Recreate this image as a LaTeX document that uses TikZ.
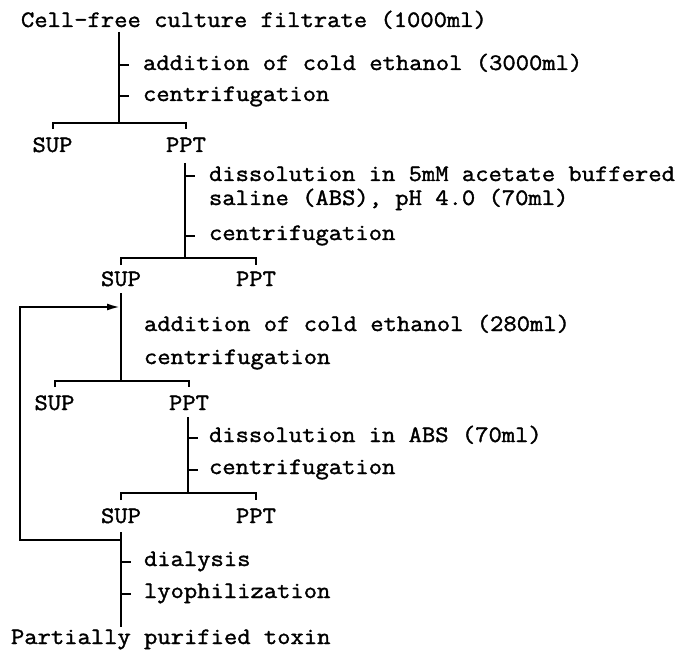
\documentclass[tikz,border=0pt]{standalone}
\usepackage{fontspec}
\newfontfamily\mono[BoldFont={Latin Modern Mono},BoldFeatures={FakeBold=1.5,FakeStretch=1.1}]{Latin Modern Mono}
\usetikzlibrary{arrows.meta,calc}
\begin{document}
\begin{tikzpicture}[x=1pt,y=-1pt,line width=2pt,
  txt/.style={inner sep=0pt,font=\mono\bfseries\fontsize{23.5}{27}\selectfont},
  lbl/.style={txt,anchor=base west},
  res/.style={txt,anchor=base},
  flow/.style={line width=2pt},
  loop/.style={line width=2pt,-{Latex[length=13pt,width=7pt]}}]
\useasboundingbox (0,0) rectangle (679,652);

% texts
\node[lbl] (start) at (20,27) {Cell-free culture filtrate (1000ml)};
\node[lbl] (s1a) at (142,70) {addition of cold ethanol (3000ml)};
\node[lbl] (s1b) at (142,101) {centrifugation};
\node[res] (sup1) at (52.5,152) {SUP};
\node[res] (ppt1) at (186,152) {PPT};
\node[lbl] (s2a) at (208,181) {dissolution in 5mM acetate buffered};
\node[lbl] (s2c) at (208,205) {saline (ABS), pH 4.0 (70ml)};
\node[lbl] (s2b) at (208,240) {centrifugation};
\node[res] (sup2) at (121,286) {SUP};
\node[res] (ppt2) at (256,286) {PPT};
\node[lbl] (s3a) at (143,331) {addition of cold ethanol (280ml)};
\node[lbl] (s3b) at (143,364) {centrifugation};
\node[res] (sup3) at (54.5,410) {SUP};
\node[res] (ppt3) at (189,410) {PPT};
\node[lbl] (s4a) at (208,442) {dissolution in ABS (70ml)};
\node[lbl] (s4b) at (208,474) {centrifugation};
\node[res] (sup4) at (121,523) {SUP};
\node[res] (ppt4) at (256,523) {PPT};
\node[lbl] (s5a) at (143,566) {dialysis};
\node[lbl] (s5b) at (143,598) {lyophilization};
\node[lbl] (fin) at (10,644) {Partially purified toxin};

% junction coordinates
\coordinate (t1) at (118.5,32);  \coordinate (j1) at (118.5,123);
\coordinate (t2) at (185,163);   \coordinate (j2) at (185,258);
\coordinate (t3) at (121,293);   \coordinate (j3) at (121,381);
\coordinate (t4) at (188,417);   \coordinate (j4) at (188,493);
\coordinate (t5) at (121,532);   \coordinate (b5) at (121,627);
\coordinate (ret) at (121,540);  \coordinate (back) at (20,540);
\coordinate (up) at (20,307);    \coordinate (in3) at (120,307);

% trunks
\draw[flow] (t1) -- (j1);
\draw[flow] (t2) -- (j2);
\draw[flow] (t3) -- (j3);
\draw[flow] (t4) -- (j4);
\draw[flow] (t5) -- (b5);

% splits
\draw[flow] (sup1.north |- j1) ++(0,6) -- (sup1.north |- j1) -- (ppt1.north |- j1) -- ++(0,6);
\draw[flow] (sup2.north |- j2) ++(0,7) -- (sup2.north |- j2) -- (ppt2.north |- j2) -- ++(0,7);
\draw[flow] (sup3.north |- j3) ++(0,6) -- (sup3.north |- j3) -- (ppt3.north |- j3) -- ++(0,6);
\draw[flow] (sup4.north |- j4) ++(0,7) -- (sup4.north |- j4) -- (ppt4.north |- j4) -- ++(0,7);

% ticks
\newcommand\steptick[2]{\draw[flow] ($(#1 |- #2.base)+(0,-4.5)$) -- ++(10,0);}
\steptick{t1}{s1a}
\steptick{t1}{s1b}
\steptick{t2}{s2a}
\steptick{t2}{s2b}
\steptick{t4}{s4a}
\steptick{t4}{s4b}
\steptick{t5}{s5a}
\steptick{t5}{s5b}

% recycle loop
\draw[loop] (ret) -- (back) -- (up) -- (in3);
\end{tikzpicture}
\end{document}
